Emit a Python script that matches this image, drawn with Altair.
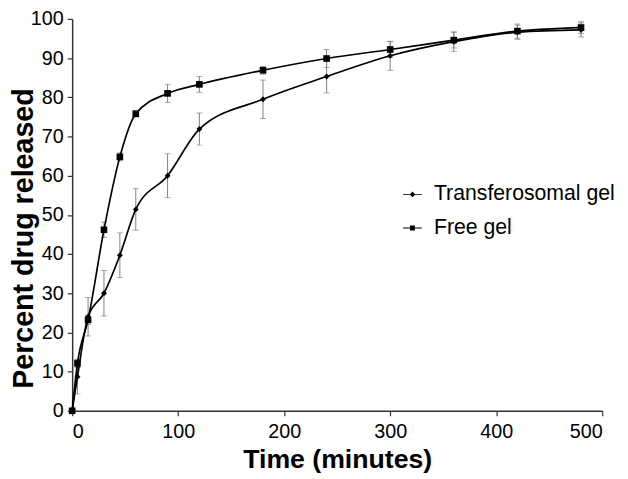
import altair as alt
import pandas as pd

time_min = [0, 5, 15, 30, 45, 60, 90, 120, 180, 240, 300, 360, 420, 480]
transfer_mean = [0, 8.7, 24.0, 30.0, 39.7, 51.4, 60.0, 71.9, 79.5, 85.3, 90.6, 94.2, 96.6, 97.2]
transfer_err = [0, 4.4, 4.9, 5.8, 5.7, 5.3, 5.6, 4.1, 4.9, 4.2, 3.7, 2.5, 1.8, 1.8]
free_mean = [0, 12.1, 23.2, 46.2, 64.8, 75.8, 81.0, 83.3, 86.9, 89.9, 92.2, 94.6, 96.9, 97.8]
free_err = [0, 1.0, 1.2, 2.0, 1.0, 0.8, 2.3, 2.0, 1.0, 2.3, 2.0, 2.0, 1.8, 1.5]
series_names = ["Transferosomal gel", "Free gel"]
x_ticks = [0, 100, 200, 300, 400, 500]
y_ticks = [0, 10, 20, 30, 40, 50, 60, 70, 80, 90, 100]

rows = []
for name, means, errs in [(series_names[0], transfer_mean, transfer_err),
                          (series_names[1], free_mean, free_err)]:
    for t, m, e in zip(time_min, means, errs):
        rows.append({"series": name, "time": t, "value": m,
                     "lo": m - e, "hi": m + e})
df = pd.DataFrame(rows)

FONT = "Liberation Sans"

x_scale = alt.Scale(domain=[0, 500], nice=False)
y_scale = alt.Scale(domain=[0, 100], nice=False)
x_axis = alt.Axis(values=x_ticks, title="Time (minutes)",
                  titleY=49, titleBaseline="middle", titleFontSize=27,
                  labelOverlap=False, tickCount=6)
y_axis = alt.Axis(values=y_ticks, title="Percent drug released",
                  titleX=-49, titleY=222, titleAngle=270, titleFontSize=29,
                  titleAlign="center", titleBaseline="middle",
                  labelOverlap=False, tickCount=11)

base = alt.Chart(df)

err_rule = base.mark_rule(color="#808080", strokeWidth=1).encode(
    x=alt.X("time:Q", scale=x_scale, axis=x_axis),
    y=alt.Y("lo:Q", scale=y_scale, axis=y_axis),
    y2="hi:Q", detail="series:N")
cap_lo = base.mark_tick(color="#808080", thickness=1, size=6, orient="horizontal").encode(
    x=alt.X("time:Q", scale=x_scale, axis=x_axis),
    y=alt.Y("lo:Q", scale=y_scale, axis=y_axis))
cap_hi = base.mark_tick(color="#808080", thickness=1, size=6, orient="horizontal").encode(
    x=alt.X("time:Q", scale=x_scale, axis=x_axis),
    y=alt.Y("hi:Q", scale=y_scale, axis=y_axis))

lines = base.mark_line(color="black", strokeWidth=1.7, interpolate="monotone").encode(
    x=alt.X("time:Q", scale=x_scale, axis=x_axis),
    y=alt.Y("value:Q", scale=y_scale, axis=y_axis),
    detail="series:N")

points = base.mark_point(filled=True, color="black", opacity=1).encode(
    x=alt.X("time:Q", scale=x_scale, axis=x_axis),
    y=alt.Y("value:Q", scale=y_scale, axis=y_axis),
    shape=alt.Shape("series:N", scale=alt.Scale(domain=series_names, range=["diamond", "square"]),
                    legend=None),
    size=alt.Size("series:N", scale=alt.Scale(domain=series_names, range=[36, 45]), legend=None),
)

legend_paths = [
    "M-1,-0.05H1V0.05H-1Z M0,-0.3L0.3,0L0,0.3L-0.3,0Z",
    "M-1,-0.05H1V0.05H-1Z M-0.26,-0.26H0.26V0.26H-0.26Z",
]
legend_layer = base.mark_point(filled=True, color="black", opacity=0, size=361).encode(
    x=alt.X("time:Q", scale=x_scale, axis=x_axis),
    y=alt.Y("value:Q", scale=y_scale, axis=y_axis),
    shape=alt.Shape("series:N", scale=alt.Scale(domain=series_names, range=legend_paths),
                    legend=alt.Legend(title=None, orient="none", legendX=334, legendY=167,
                                      labelFontSize=21.5, labelFont=FONT, labelColor="black",
                                      symbolSize=361, symbolOpacity=1,
                                      symbolFillColor="black", symbolStrokeWidth=0,
                                      rowPadding=11, labelOffset=11, labelLimit=400)),
)

chart = alt.layer(err_rule, cap_lo, cap_hi, lines, points, legend_layer).resolve_scale(
    shape="independent", size="independent"
).properties(
    width=537, height=397,
    autosize=alt.AutoSizeParams(type="none"),
    padding={"left": 65, "top": 8, "right": 18, "bottom": 66},
).configure_view(stroke=None).configure_axis(
    grid=False, domainColor="#333333", domainWidth=1.5, tickColor="#333333", tickWidth=1.2,
    tickSize=5, labelFont=FONT, labelFontSize=20, labelColor="black", labelPadding=4,
    titleFont=FONT, titleFontWeight="bold", titleColor="black",
).configure_axisX(labelPadding=6)

chart.save("out.html", embed_options={"renderer": "svg", "actions": False})
